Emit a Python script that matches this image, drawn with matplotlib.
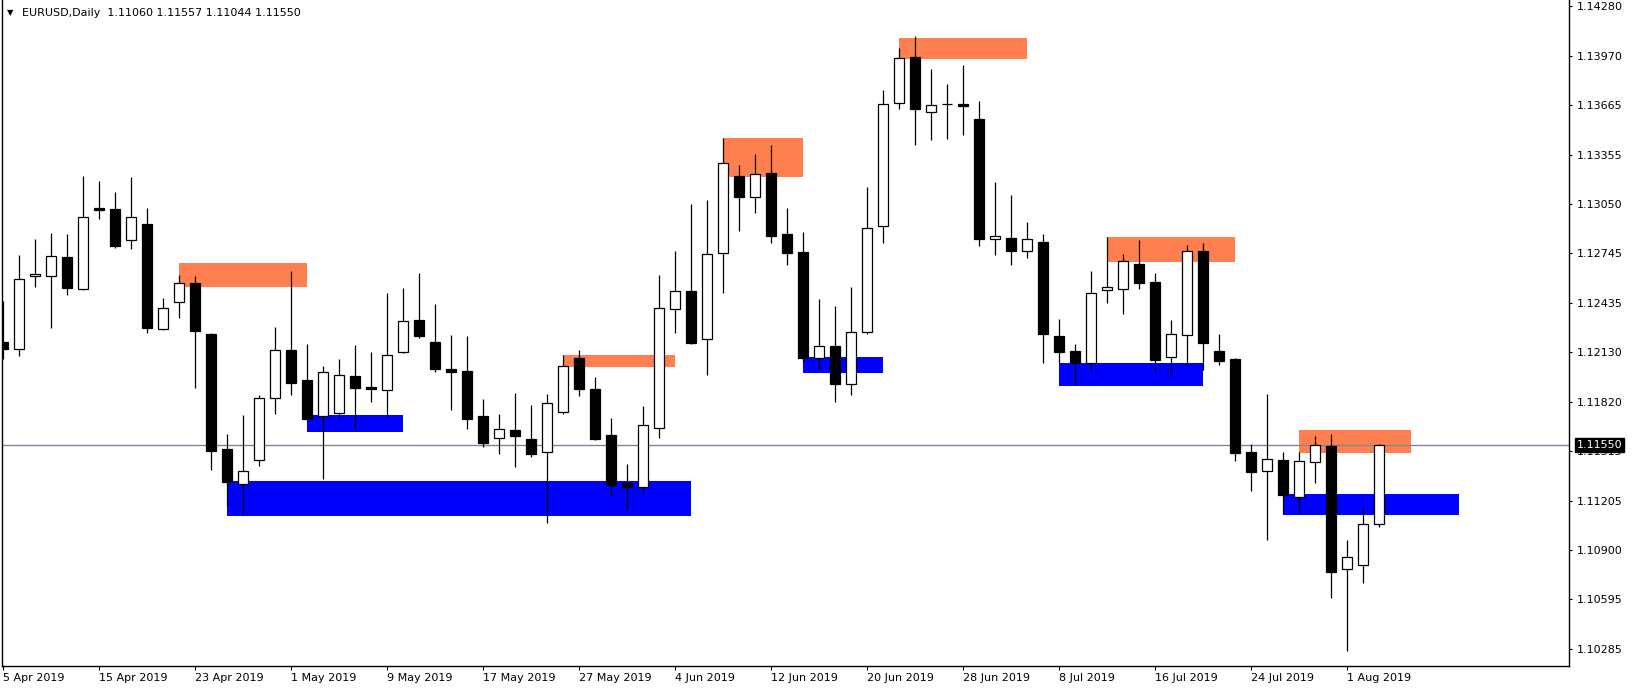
import matplotlib.pyplot as plt
from matplotlib.patches import Rectangle

# daily EURUSD candles, bar 0 = 5 Apr 2019
opens = [1.12192, 1.12146, 1.12600, 1.12603, 1.12720, 1.12519, 1.13024, 1.13018, 1.12823, 1.12925,
         1.12270, 1.12438, 1.12556, 1.12239, 1.11525, 1.11308, 1.11457, 1.11842, 1.12142, 1.11956,
         1.11730, 1.11749, 1.11980, 1.11912, 1.11895, 1.12128, 1.12328, 1.12192, 1.12024, 1.12012,
         1.11732, 1.11594, 1.11645, 1.11589, 1.11507, 1.11755, 1.12092, 1.11900, 1.11614, 1.11314,
         1.11289, 1.11656, 1.12395, 1.12507, 1.12208, 1.12743, 1.13223, 1.13094, 1.13241, 1.12862,
         1.12751, 1.12090, 1.12167, 1.11929, 1.12252, 1.12914, 1.13674, 1.13962, 1.13618, 1.13670,
         1.13668, 1.13577, 1.12833, 1.12836, 1.12759, 1.12813, 1.12229, 1.12136, 1.12063, 1.12513,
         1.12519, 1.12676, 1.12564, 1.12097, 1.12233, 1.12757, 1.12136, 1.12086, 1.11508, 1.11389,
         1.11459, 1.11231, 1.11444, 1.11546, 1.10780, 1.10805, 1.11060]
highs = [1.12446, 1.12732, 1.12831, 1.12869, 1.12862, 1.13223, 1.13192, 1.13123, 1.13216, 1.13024,
         1.12465, 1.12606, 1.12602, 1.12246, 1.11620, 1.11738, 1.11862, 1.12283, 1.12633, 1.12179,
         1.12043, 1.12086, 1.12173, 1.12129, 1.12496, 1.12527, 1.12620, 1.12428, 1.12235, 1.12227,
         1.11838, 1.11744, 1.11875, 1.11800, 1.11869, 1.12111, 1.12142, 1.11974, 1.11718, 1.11434,
         1.11794, 1.12608, 1.12757, 1.13049, 1.13072, 1.13459, 1.13291, 1.13359, 1.13415, 1.13024,
         1.12875, 1.12459, 1.12415, 1.12533, 1.13154, 1.13757, 1.14016, 1.14092, 1.13887, 1.13794,
         1.13912, 1.13688, 1.13185, 1.13105, 1.12937, 1.12862, 1.12334, 1.12179, 1.12633, 1.12842,
         1.12738, 1.12825, 1.12620, 1.12328, 1.12794, 1.12807, 1.12241, 1.12092, 1.11558, 1.11869,
         1.11508, 1.11508, 1.11608, 1.11620, 1.10962, 1.11165, 1.11557]
lows = [1.12088, 1.12107, 1.12535, 1.12280, 1.12485, 1.12515, 1.12957, 1.12775, 1.12771, 1.12249,
        1.12264, 1.12343, 1.11908, 1.11398, 1.11175, 1.11117, 1.11423, 1.11746, 1.11864, 1.11708,
        1.11343, 1.11711, 1.11659, 1.11821, 1.11728, 1.12125, 1.12218, 1.12003, 1.11771, 1.11653,
        1.11541, 1.11498, 1.11417, 1.11479, 1.11067, 1.11743, 1.11858, 1.11583, 1.11237, 1.11156,
        1.11252, 1.11597, 1.12249, 1.12180, 1.11989, 1.12498, 1.12883, 1.12995, 1.12808, 1.12672,
        1.12067, 1.12026, 1.11819, 1.11864, 1.12241, 1.12808, 1.13641, 1.13417, 1.13448, 1.13454,
        1.13479, 1.12790, 1.12734, 1.12672, 1.12716, 1.12063, 1.12059, 1.11926, 1.12007, 1.12436,
        1.12367, 1.12519, 1.12007, 1.11982, 1.12038, 1.12018, 1.12051, 1.11454, 1.11268, 1.10963,
        1.11121, 1.11128, 1.11318, 1.10603, 1.10270, 1.10697, 1.11044]
closes = [1.12146, 1.12581, 1.12612, 1.12724, 1.12529, 1.12966, 1.13011, 1.12790, 1.12966, 1.12280,
          1.12401, 1.12556, 1.12263, 1.11516, 1.11324, 1.11389, 1.11842, 1.12140, 1.11939, 1.11711,
          1.12003, 1.11985, 1.11908, 1.11902, 1.12109, 1.12320, 1.12231, 1.12026, 1.12007, 1.11715,
          1.11566, 1.11649, 1.11610, 1.11498, 1.11811, 1.12041, 1.11902, 1.11591, 1.11305, 1.11289,
          1.11674, 1.12401, 1.12507, 1.12187, 1.12736, 1.13302, 1.13094, 1.13233, 1.12852, 1.12746,
          1.12094, 1.12165, 1.11933, 1.12252, 1.12898, 1.13668, 1.13954, 1.13641, 1.13662, 1.13668,
          1.13659, 1.12833, 1.12848, 1.12759, 1.12830, 1.12243, 1.12131, 1.12061, 1.12494, 1.12531,
          1.12693, 1.12560, 1.12082, 1.12239, 1.12755, 1.12187, 1.12075, 1.11504, 1.11386, 1.11463,
          1.11243, 1.11451, 1.11550, 1.10765, 1.10854, 1.11059, 1.11550]

# supply / demand zones: (first bar, last bar, low, high, colour)
zones = [
    (11, 19, 1.12533, 1.12682, '#FF7F50'),
    (14, 43, 1.11111, 1.11328, '#0000FF'),
    (19, 25, 1.11635, 1.11738, '#0000FF'),
    (35, 42, 1.12036, 1.12111, '#FF7F50'),
    (45, 50, 1.13218, 1.13458, '#FF7F50'),
    (50, 55, 1.12001, 1.12098, '#0000FF'),
    (56, 64, 1.13949, 1.14079, '#FF7F50'),
    (66, 75, 1.11918, 1.12061, '#0000FF'),
    (69, 77, 1.12688, 1.12844, '#FF7F50'),
    (81, 88, 1.11504, 1.11645, '#FF7F50'),
    (80, 91, 1.11119, 1.11248, '#0000FF'),
]

date_ticks = [0, 6, 12, 18, 24, 30, 36, 42, 48, 54, 60, 66, 72, 78, 84]
date_labels = ['5 Apr 2019', '15 Apr 2019', '23 Apr 2019', '1 May 2019', '9 May 2019',
               '17 May 2019', '27 May 2019', '4 Jun 2019', '12 Jun 2019', '20 Jun 2019',
               '28 Jun 2019', '8 Jul 2019', '16 Jul 2019', '24 Jul 2019', '1 Aug 2019']
price_ticks = [1.14280, 1.13970, 1.13665, 1.13355, 1.13050, 1.12745, 1.12435,
               1.12130, 1.11820, 1.11515, 1.11205, 1.10900, 1.10595, 1.10285]
last_price = 1.11550

fig = plt.figure(figsize=(16.33, 6.90), dpi=100)
ax = fig.add_axes([2.5 / 1633, 24 / 690, 1566.8 / 1633, 666 / 690])

for s, e, lo, hi, col in zones:
    ax.add_patch(Rectangle((s, lo), e - s, hi - lo, facecolor=col, edgecolor='none', zorder=1))

ax.axhline(last_price, color='#778899', lw=1.0, zorder=2)

w = 0.61
for i in range(len(opens)):
    o, h, l, c = opens[i], highs[i], lows[i], closes[i]
    ax.vlines(i, l, h, color='black', lw=0.9, zorder=3)
    fc = 'white' if c > o else 'black'
    ax.add_patch(Rectangle((i - w / 2, min(o, c)), w, abs(c - o), facecolor=fc,
                           edgecolor='black', lw=0.9, zorder=4))

ax.set_xlim(-0.05, 97.875)
ax.set_ylim(1.10179, 1.14316)

ax.set_xticks(date_ticks)
ax.set_xticklabels(date_labels, ha='left')
ax.tick_params(axis='x', length=3, width=0.8, pad=2, labelsize=8)

ax.yaxis.tick_right()
ax.set_yticks(price_ticks)
ax.set_yticklabels([f'{v:.5f}' for v in price_ticks])
ax.tick_params(axis='y', length=2.5, width=0.8, pad=3, labelsize=8)

for side in ['left', 'right', 'bottom']:
    ax.spines[side].set_color('black')
    ax.spines[side].set_linewidth(1.0)
ax.spines['top'].set_visible(False)

# current price tag on the axis
ax.text(1.0047, last_price, f'{last_price:.5f}', transform=ax.get_yaxis_transform(),
        ha='left', va='center', fontsize=8, color='white', zorder=10,
        bbox=dict(facecolor='black', edgecolor='black', pad=1.5))

fig.text(7 / 1633, 1 - 13 / 690, '\u25bc', fontsize=6, va='center')
fig.text(22 / 1633, 1 - 13 / 690, 'EURUSD,Daily  1.11060 1.11557 1.11044 1.11550',
         fontsize=8, va='center')

fig.savefig('out.png', dpi=100, facecolor='white')
